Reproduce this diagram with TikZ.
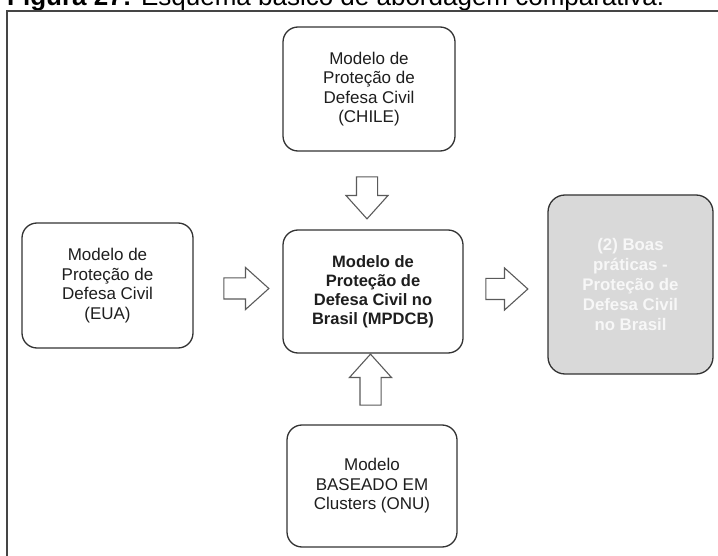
\documentclass[tikz,border=0pt]{standalone}
\usepackage{fontspec}
\setmainfont{Liberation Sans}
\usetikzlibrary{shapes.arrows}
\definecolor{boxline}{HTML}{333333}
\definecolor{arrowline}{HTML}{5A5A5A}
\definecolor{framecol}{HTML}{454545}
\definecolor{textcol}{HTML}{1E1E1E}
\definecolor{greyfill}{HTML}{D9D9D9}
\definecolor{greytext}{HTML}{F7F7F7}
\begin{document}
\begin{tikzpicture}[x=1pt,y=-1pt,
  box/.style={draw=boxline, line width=1.3pt, rounded corners=15pt, fill=white,
    align=center, text=textcol, inner sep=0pt,
    font=\fontsize{17}{19.5}\selectfont},
  resultbox/.style={box, fill=greyfill, text=greytext, rounded corners=17pt,
    font=\fontsize{16.8}{20}\selectfont\bfseries},
  blockarrow/.style={single arrow, draw=arrowline, fill=white, line width=1.1pt,
    text height=0pt, text depth=0pt, inner xsep=0pt, inner ysep=10pt,
    minimum width=0pt, single arrow head extend=10.5pt,
    single arrow tip angle=84},
  frameline/.style={draw=framecol, line width=2pt}
]
\useasboundingbox (0,0) rectangle (718,556);
\clip (0,0) rectangle (718,556);

% caption, partly above the page
\node[anchor=base west, inner sep=0pt, text=black,
  font=\fontsize{26}{30}\selectfont] (caption) at (7,6)
  {\textbf{Figura 27:} Esquema básico de abordagem comparativa.};

% outer frame
\draw[frameline] (7,560) -- (7,11) -- (722,11);

% models
\node[box, minimum width=172pt, minimum height=124pt] (chile) at (369,89)
  {Modelo de\\Proteção de\\Defesa Civil\\(CHILE)};
\node[box, minimum width=171pt, minimum height=125pt] (eua) at (107.5,285.5)
  {Modelo de\\Proteção de\\Defesa Civil\\(EUA)};
\node[box, minimum width=180pt, minimum height=123pt, font=\fontsize{16.5}{19}\selectfont\bfseries]
  (mpdcb) at (373,291.5)
  {Modelo de\\Proteção de\\Defesa Civil no\\Brasil (MPDCB)};
\node[box, minimum width=170pt, minimum height=122pt] (onu) at (372,486)
  {Modelo\\BASEADO EM\\Clusters (ONU)};
\node[resultbox, minimum width=165pt, minimum height=179pt] (boas) at (630.5,284.5)
  {(2) Boas\\práticas -\\Proteção de\\Defesa Civil\\no Brasil};

% block arrows between the models
\node[blockarrow, minimum height=45pt] (eua2mpdcb) at (240.5,288.5) {};
\node[blockarrow, minimum height=42pt, rotate=-90] (chile2mpdcb) at (367,192) {};
\node[blockarrow, minimum height=51pt, rotate=90] (onu2mpdcb) at (370.5,385.5) {};
\node[blockarrow, minimum height=42pt] (mpdcb2boas) at (501,289) {};
\end{tikzpicture}
\end{document}
